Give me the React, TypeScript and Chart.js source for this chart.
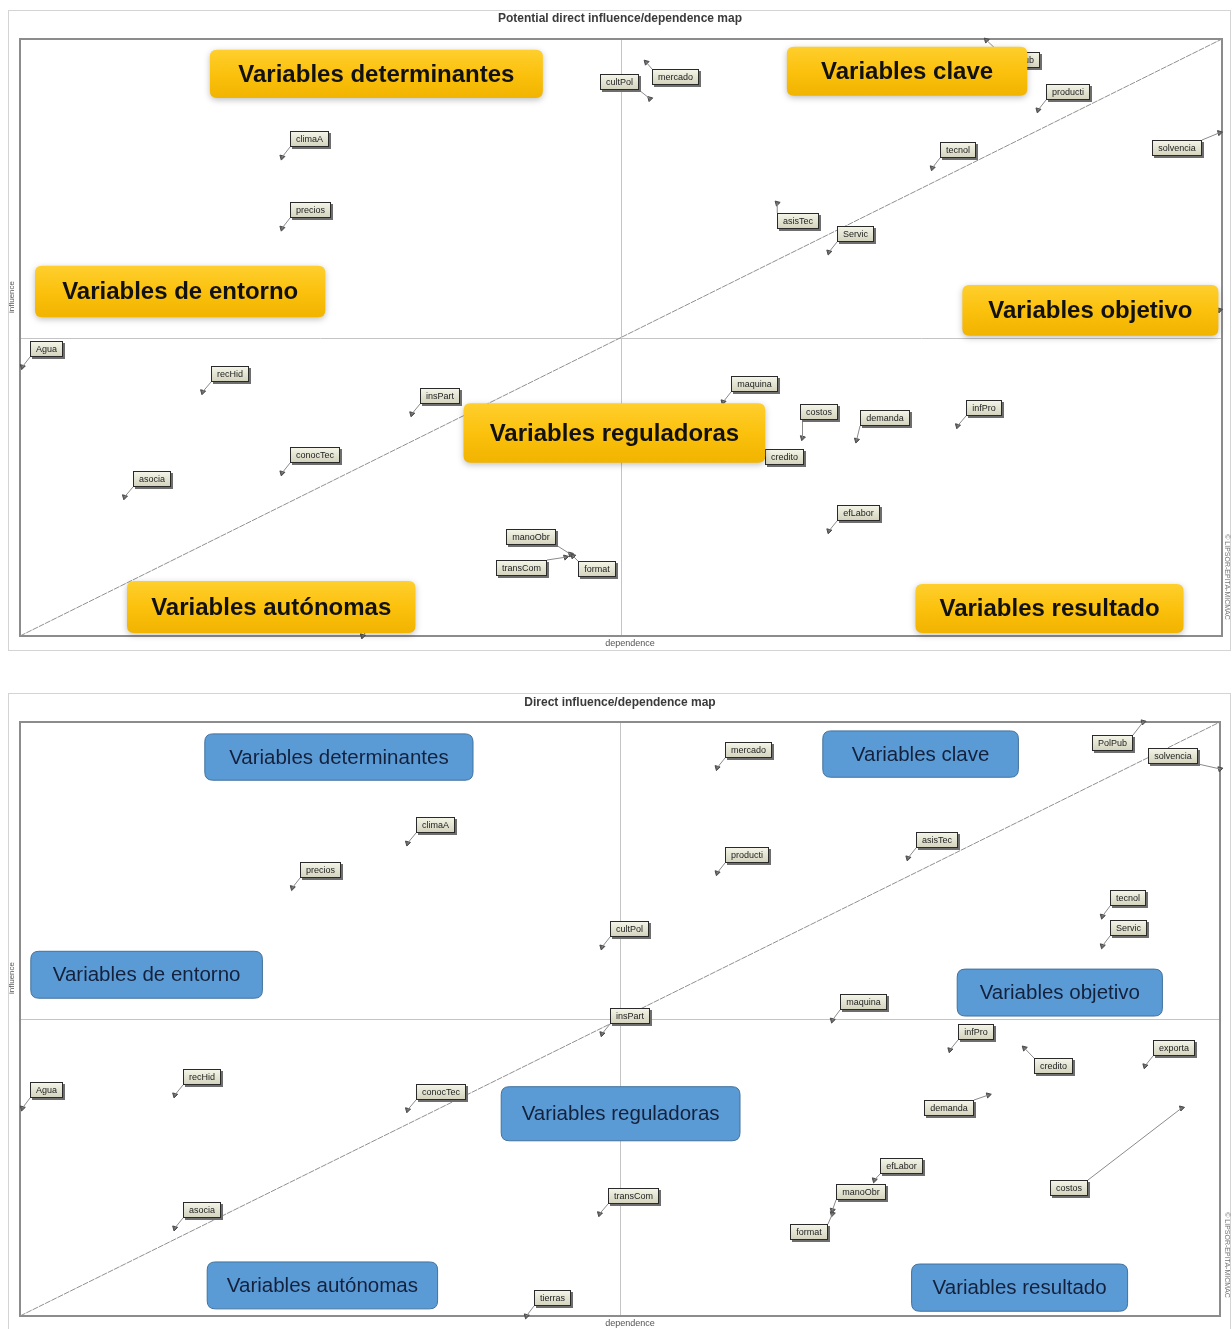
import { useEffect, useRef } from 'react';
import { Chart, registerables } from 'chart.js';

Chart.register(...registerables);

// ---------- DATA ----------
const topTitle = 'Potential direct influence/dependence map';
const bottomTitle = 'Direct influence/dependence map';
const xAxisTitle = 'dependence';
const yAxisTitle = 'influence';
const sideNote = '© LIPSOR-EPITA-MICMAC';

const quadrantNames = [
  'Variables determinantes',
  'Variables clave',
  'Variables de entorno',
  'Variables objetivo',
  'Variables reguladoras',
  'Variables autónomas',
  'Variables resultado',
];

// Potential direct map
const topNames = [
  'PolPub', 'producti', 'solvencia', 'tecnol', 'asisTec', 'Servic', 'climaA', 'precios', 'Agua',
  'recHid', 'insPart', 'conocTec', 'asocia', 'manoObr', 'transCom', 'format', 'tierras', 'maquina',
  'costos', 'demanda', 'infPro', 'credito', 'efLabor', 'mercado', 'cultPol', 'exporta',
];
const topDependence = [
  80.4, 84.7, 99.8, 75.9, 63.0, 67.3, 21.8, 21.8, 0.2,
  15.2, 32.6, 21.8, 8.7, 45.8, 45.4, 46.0, 28.5, 58.5,
  65.1, 69.6, 78.0, 61.4, 67.3, 52.1, 52.4, 99.8,
];
const topInfluence = [
  99.8, 88.1, 84.3, 78.4, 72.5, 64.3, 80.2, 68.3, 45.1,
  40.9, 37.2, 27.3, 23.3, 13.7, 13.2, 13.4, 0.0, 39.2,
  33.2, 32.8, 35.2, 29.8, 17.6, 96.1, 90.0, 54.6,
];

// Direct map
const bottomNames = [
  'mercado', 'PolPub', 'solvencia', 'climaA', 'precios', 'producti', 'asisTec', 'tecnol', 'Servic',
  'cultPol', 'insPart', 'maquina', 'infPro', 'credito', 'exporta', 'demanda', 'costos', 'efLabor',
  'manoObr', 'format', 'transCom', 'asocia', 'conocTec', 'recHid', 'Agua', 'tierras',
];
const bottomDependence = [
  58.1, 93.6, 100.0, 32.3, 22.7, 58.1, 74.0, 90.2, 90.2,
  48.5, 48.5, 67.7, 77.5, 83.7, 93.75, 80.7, 96.8, 71.2,
  67.7, 67.7, 48.3, 12.9, 32.3, 12.9, 0.2, 42.2,
];
const bottomInfluence = [
  92.3, 100.0, 92.1, 79.6, 72.1, 74.6, 77.1, 67.3, 62.3,
  62.1, 47.5, 49.8, 44.8, 45.1, 42.1, 37.2, 35.0, 22.9,
  17.8, 17.2, 17.2, 14.8, 34.7, 37.2, 35.0, 0.0,
];

// ---------- LAYOUT (not data) ----------
const topBoxes = [
  [15.8, 98.2, 43.5, 90.1], [63.8, 98.7, 83.8, 90.5], [1.25, 62.0, 25.4, 53.4], [78.4, 58.8, 99.7, 50.3],
  [36.9, 39.0, 62.0, 29.0], [8.9, 9.2, 32.9, 0.5], [74.5, 8.7, 96.8, 0.5],
];
const bottomBoxes = [
  [15.4, 98.0, 37.75, 90.2], [66.9, 98.5, 83.2, 90.7], [0.9, 61.4, 20.2, 53.5], [78.1, 58.4, 95.2, 50.5],
  [40.1, 38.6, 60.0, 29.5], [15.6, 9.1, 34.8, 1.2], [74.3, 8.75, 92.3, 0.8],
];
const topLabelOffsets: Record<string, [number, number]> = {
  PolPub: [13, 12], solvencia: [-68, 7], asisTec: [0, 10], mercado: [6, 7], cultPol: [-50, -25],
  manoObr: [-65, -25], transCom: [-70, 3], format: [5, 5], costos: [-3, -34], demanda: [3, -30],
  credito: [7, -9], exporta: [-62, -18],
};
const bottomLabelOffsets: Record<string, [number, number]> = {
  PolPub: [-51, 13], solvencia: [-72, -21], credito: [10, 10], demanda: [-64, 5], costos: [-132, 72],
  manoObr: [4, -26], format: [-42, 10], efLabor: [6, -22],
};

type Cfg = {
  title: string;
  titleY: number;
  outer: [number, number, number, number];
  yTitleY: number;
  sideY: number;
  names: string[];
  offsets: Record<string, [number, number]>;
  boxes: number[][];
  theme: 'yellow' | 'blue';
};

function roundRect(ctx: CanvasRenderingContext2D, x: number, y: number, w: number, h: number, r: number) {
  ctx.beginPath();
  ctx.moveTo(x + r, y);
  ctx.lineTo(x + w - r, y);
  ctx.quadraticCurveTo(x + w, y, x + w, y + r);
  ctx.lineTo(x + w, y + h - r);
  ctx.quadraticCurveTo(x + w, y + h, x + w - r, y + h);
  ctx.lineTo(x + r, y + h);
  ctx.quadraticCurveTo(x, y + h, x, y + h - r);
  ctx.lineTo(x, y + r);
  ctx.quadraticCurveTo(x, y, x + r, y);
  ctx.closePath();
}

function makePlugin(cfg: Cfg) {
  return {
    id: 'micmacMap',
    beforeDatasetsDraw(chart: any) {
      const { ctx, chartArea: a, scales } = chart;
      const xs = scales.x, ys = scales.y;
      ctx.save();
      ctx.strokeStyle = '#d4d4d4';
      ctx.lineWidth = 1;
      const [ox, oy, ow, oh] = cfg.outer;
      ctx.strokeRect(ox + 0.5, oy + 0.5, ow, oh);
      ctx.fillStyle = '#3a3a3a';
      ctx.font = 'bold 12px "Liberation Sans", Arial, sans-serif';
      ctx.textAlign = 'center';
      ctx.textBaseline = 'middle';
      ctx.fillText(cfg.title, 620, cfg.titleY);
      ctx.strokeStyle = '#c4c4c4';
      ctx.lineWidth = 1;
      const cx = Math.round(xs.getPixelForValue(50)) + 0.5;
      const cy = Math.round(ys.getPixelForValue(50)) + 0.5;
      ctx.beginPath();
      ctx.moveTo(cx, a.top);
      ctx.lineTo(cx, a.bottom);
      ctx.moveTo(a.left, cy);
      ctx.lineTo(a.right, cy);
      ctx.stroke();
      ctx.strokeStyle = '#8c8c8c';
      ctx.lineWidth = 2;
      ctx.strokeRect(a.left, a.top, a.width, a.height);
      ctx.fillStyle = '#555';
      ctx.font = '9px "Liberation Sans", Arial, sans-serif';
      ctx.fillText(xAxisTitle, 630, a.bottom + 8);
      ctx.save();
      ctx.translate(12, cfg.yTitleY);
      ctx.rotate(-Math.PI / 2);
      ctx.font = '8px "Liberation Sans", Arial, sans-serif';
      ctx.fillText(yAxisTitle, 0, 0);
      ctx.restore();
      ctx.save();
      ctx.translate(1227, cfg.sideY);
      ctx.rotate(Math.PI / 2);
      ctx.font = '7px "Liberation Sans", Arial, sans-serif';
      ctx.fillStyle = '#777';
      ctx.fillText(sideNote, 0, 0);
      ctx.restore();
      ctx.restore();
    },
    afterDatasetsDraw(chart: any) {
      const { ctx, scales } = chart;
      const xs = scales.x, ys = scales.y;
      const meta = chart.getDatasetMeta(1);
      ctx.save();
      ctx.font = '9px "Liberation Sans", Arial, sans-serif';
      ctx.textAlign = 'center';
      ctx.textBaseline = 'middle';
      cfg.names.forEach((name, i) => {
        const el = meta.data[i];
        if (!el) return;
        const px = el.x, py = el.y;
        const off = cfg.offsets[name] || [8, -26];
        const w = Math.round(ctx.measureText(name).width + 12);
        const h = 16;
        const bx = Math.round(px + off[0]);
        const by = Math.round(py + off[1]);
        const lx = Math.min(Math.max(px, bx), bx + w);
        const ly = Math.min(Math.max(py, by), by + h);
        ctx.strokeStyle = '#8a8a8a';
        ctx.lineWidth = 1;
        ctx.beginPath();
        ctx.moveTo(px, py);
        ctx.lineTo(lx, ly);
        ctx.stroke();
        ctx.fillStyle = '#6e6e6e';
        ctx.fillRect(bx + 2, by + 2, w, h);
        const g = ctx.createLinearGradient(0, by, 0, by + h);
        g.addColorStop(0, '#f6f6ea');
        g.addColorStop(1, '#d2d2bc');
        ctx.fillStyle = g;
        ctx.fillRect(bx, by, w, h);
        ctx.strokeStyle = '#2a2a2a';
        ctx.strokeRect(bx + 0.5, by + 0.5, w - 1, h - 1);
        ctx.fillStyle = '#222';
        ctx.fillText(name, bx + w / 2, by + h / 2 + 0.5);
      });
      cfg.boxes.forEach((b, i) => {
        const x1 = xs.getPixelForValue(b[0]);
        const y1 = ys.getPixelForValue(b[1]);
        const x2 = xs.getPixelForValue(b[2]);
        const y2 = ys.getPixelForValue(b[3]);
        const w = x2 - x1, h = y2 - y1;
        ctx.save();
        if (cfg.theme === 'yellow') {
          ctx.shadowColor = 'rgba(0,0,0,0.25)';
          ctx.shadowBlur = 6;
          ctx.shadowOffsetY = 2;
          const g = ctx.createLinearGradient(0, y1, 0, y2);
          g.addColorStop(0, '#ffcf2e');
          g.addColorStop(0.5, '#fbc10d');
          g.addColorStop(1, '#f1b400');
          ctx.fillStyle = g;
          roundRect(ctx, x1, y1, w, h, 7);
          ctx.fill();
          ctx.restore();
          ctx.save();
          ctx.fillStyle = '#111';
          ctx.font = 'bold 24px "Liberation Sans", Arial, sans-serif';
          ctx.textAlign = 'center';
          ctx.textBaseline = 'middle';
          ctx.fillText(quadrantNames[i], x1 + w / 2, y1 + h / 2 + 1);
        } else {
          ctx.fillStyle = '#5b9bd5';
          roundRect(ctx, x1, y1, w, h, 8);
          ctx.fill();
          ctx.strokeStyle = '#41719c';
          ctx.lineWidth = 1;
          ctx.stroke();
          ctx.fillStyle = '#14213d';
          ctx.font = '20.5px "Liberation Sans", Arial, sans-serif';
          ctx.textAlign = 'center';
          ctx.textBaseline = 'middle';
          ctx.fillText(quadrantNames[i], x1 + w / 2, y1 + h / 2 + 1);
        }
        ctx.restore();
      });
      ctx.restore();
    },
  };
}

function MapChart(props: {
  width: number;
  height: number;
  top: number;
  padding: { left: number; right: number; top: number; bottom: number };
  dep: number[];
  inf: number[];
  cfg: Cfg;
}) {
  const ref = useRef<HTMLCanvasElement | null>(null);
  useEffect(() => {
    if (!ref.current) return;
    const chart = new Chart(ref.current, {
      type: 'scatter',
      data: {
        datasets: [
          {
            type: 'line',
            data: [{ x: 0, y: 0 }, { x: 100, y: 100 }],
            borderColor: '#909090',
            borderWidth: 1,
            borderDash: [6, 1],
            pointRadius: 0,
            clip: false,
          } as any,
          {
            data: props.dep.map((d, i) => ({ x: d, y: props.inf[i] })),
            pointStyle: 'triangle',
            rotation: -45,
            pointRadius: 3,
            backgroundColor: '#6a6a6a',
            borderColor: '#4a4a4a',
            borderWidth: 1,
            clip: false,
          } as any,
        ],
      },
      options: {
        animation: false,
        responsive: false,
        layout: { padding: props.padding },
        scales: {
          x: { type: 'linear', min: 0, max: 100, display: false },
          y: { type: 'linear', min: 0, max: 100, display: false },
        },
        plugins: { legend: { display: false }, tooltip: { enabled: false } },
      },
      plugins: [makePlugin(props.cfg)],
    });
    return () => chart.destroy();
  }, []);
  return (
    <canvas
      ref={ref}
      width={props.width}
      height={props.height}
      style={{ position: 'absolute', left: 0, top: props.top, width: props.width, height: props.height }}
    />
  );
}

export default function App() {
  return (
    <div style={{ position: 'absolute', left: 0, top: 0, width: 1232, height: 1329, background: '#fff' }}>
      <MapChart
        width={1232}
        height={655}
        top={0}
        padding={{ left: 20, right: 10, top: 39, bottom: 19 }}
        dep={topDependence}
        inf={topInfluence}
        cfg={{
          title: topTitle,
          titleY: 19,
          outer: [8, 10, 1222, 640],
          yTitleY: 297,
          sideY: 577,
          names: topNames,
          offsets: topLabelOffsets,
          boxes: topBoxes,
          theme: 'yellow',
        }}
      />
      <MapChart
        width={1232}
        height={649}
        top={680}
        padding={{ left: 20, right: 12, top: 42, bottom: 13 }}
        dep={bottomDependence}
        inf={bottomInfluence}
        cfg={{
          title: bottomTitle,
          titleY: 23,
          outer: [8, 13, 1222, 640],
          yTitleY: 298,
          sideY: 575,
          names: bottomNames,
          offsets: bottomLabelOffsets,
          boxes: bottomBoxes,
          theme: 'blue',
        }}
      />
    </div>
  );
}
